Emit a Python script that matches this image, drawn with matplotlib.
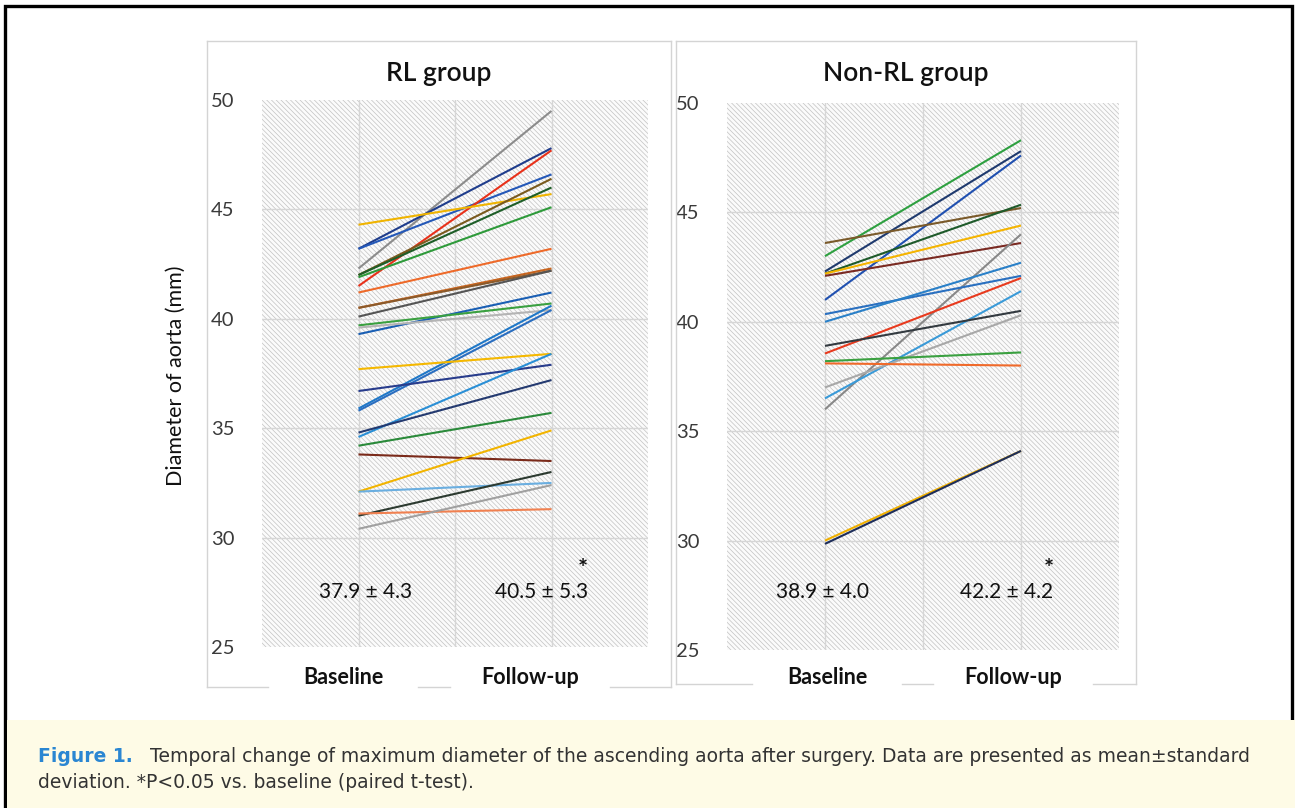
import matplotlib
matplotlib.use("Agg")
import matplotlib.pyplot as plt
from matplotlib.patches import Rectangle
from matplotlib.lines import Line2D

W, H = 1298, 808
plt.rcParams.update({"font.family": ["Lato", "DejaVu Sans"], "hatch.linewidth": 0.5})

# ---- data (mm) ----
timepoints = ["Baseline", "Follow-up"]
rl_baseline = [42.3, 43.2, 43.2, 41.5, 44.3, 42.0, 42.0, 41.9, 41.2, 40.5, 40.5, 40.1, 39.3, 39.7,
               39.6, 35.9, 35.8, 37.7, 36.7, 34.6, 34.8, 34.2, 33.8, 32.1, 32.1, 31.0, 31.1, 30.4]
rl_followup = [49.5, 47.8, 46.6, 47.7, 45.7, 46.4, 46.0, 45.1, 43.2, 42.3, 42.2, 42.2, 41.2, 40.7,
               40.4, 40.6, 40.4, 38.4, 37.9, 38.4, 37.2, 35.7, 33.5, 34.9, 32.5, 33.0, 31.3, 32.4]
nonrl_baseline = [43.0, 42.3, 41.0, 43.6, 42.2, 42.2, 42.1, 36.0, 40.35, 40.0, 38.55, 36.5, 38.9,
                  37.0, 38.2, 38.1, 30.0, 29.85]
nonrl_followup = [48.3, 47.8, 47.6, 45.2, 45.35, 44.4, 43.6, 44.0, 42.1, 42.7, 42.0, 41.4, 40.5,
                  40.3, 38.6, 38.0, 34.1, 34.1]
rl_stats = ["37.9 \u00b1 4.3", "40.5 \u00b1 5.3"]
nonrl_stats = ["38.9 \u00b1 4.0", "42.2 \u00b1 4.2"]
yticks = [25, 30, 35, 40, 45, 50]

rl_colors = ["#8c8c8c", "#1f3d8c", "#2458b8", "#e8311a", "#f0b400", "#7a5a1e", "#1e5e28", "#2e9a3a",
             "#ee6a2a", "#c8641e", "#8b5a2b", "#555555", "#1a5fb4", "#3aa040", "#b4b4b4", "#1f78c8",
             "#2a6ec0", "#f5b800", "#283c8c", "#2a8fd6", "#243a70", "#2a8a3a", "#7a2a1a", "#f2b400",
             "#6aaee0", "#2c3a30", "#f08050", "#a0a0a0"]
nonrl_colors = ["#2ea040", "#1f3a6e", "#2050b0", "#7a5a2a", "#1e5a2a", "#f5b400", "#7a2a22", "#888888",
                "#2a70c0", "#2a80c8", "#e83a1e", "#3a9ad8", "#333a40", "#a8a8a8", "#3aa040", "#f06a2a",
                "#f0b000", "#1e2e5a"]

fig = plt.figure(figsize=(W / 100, H / 100), dpi=100)
fx = lambda px: px / W
fy = lambda py: 1 - py / H

# page border + caption band
fig.patches.append(Rectangle((fx(5), 0), fx(1292) - fx(5), fy(6), transform=fig.transFigure,
                             fc="none", ec="black", lw=2.4))
fig.patches.append(Rectangle((fx(7), 0), fx(1295) - fx(7), fy(720), transform=fig.transFigure,
                             fc="#fefbe6", ec="none"))


def panel(frame, box, base, fol, colors, title, stats, lab_x, stat_x, star_x):
    x0, x1, y0, y1 = frame
    # light panel frame with gaps under the category labels
    segs = [(x0, x0, y0, y1), (x0, x1, y0, y0), (x1, x1, y0, y1)]
    for a, b, c, d in segs:
        fig.add_artist(Line2D([fx(a), fx(b)], [fy(c), fy(d)], transform=fig.transFigure,
                              color="#d4d4d4", lw=1.0))
    gaps = [x0, lab_x[0] - 75, lab_x[0] + 75, lab_x[1] - 80, lab_x[1] + 80, x1]
    for i in range(0, len(gaps), 2):
        fig.add_artist(Line2D([fx(gaps[i]), fx(gaps[i + 1])], [fy(y1), fy(y1)],
                              transform=fig.transFigure, color="#d4d4d4", lw=1.0))

    l, r, t, b = box
    ax = fig.add_axes([fx(l), fy(b), fx(r) - fx(l), fy(t) - fy(b)])
    ax.set_xlim(-0.5, 1.5)
    ax.set_ylim(25, 50)
    ax.add_patch(Rectangle((0, 0), 1, 1, transform=ax.transAxes, fc="#fbfbfb", ec="#c2c2c2",
                           lw=0, hatch="\\" * 7, zorder=0))
    for v in yticks[1:-1]:
        ax.axhline(v, color="#d6d6d6", lw=1.0, zorder=1)
    for v in [0, 0.5, 1]:
        ax.axvline(v, color="#d6d6d6", lw=1.0, zorder=1)
    for y0v, y1v, c in zip(base, fol, colors):
        ax.plot([0, 1], [y0v, y1v], color=c, lw=1.5, solid_capstyle="butt", zorder=3)
    for s in ax.spines.values():
        s.set_visible(False)
    ax.set_xticks([])
    ax.set_yticks(yticks)
    ax.tick_params(axis="y", length=0, pad=20, labelsize=14.5, labelcolor="#3a3a3a")

    fig.text(fx((x0 + x1) / 2), fy(73), title, ha="center", va="center", fontsize=19,
             fontweight="semibold", color="#111111")
    for xp, s in zip(lab_x, timepoints):
        fig.text(fx(xp), fy(677), s, ha="center", va="center", fontsize=15.5,
                 fontweight="bold", color="#111111")
    for xp, s in zip(stat_x, stats):
        fig.text(fx(xp), fy(592), s, ha="center", va="center", fontsize=15, color="#111111")
    fig.text(fx(star_x), fy(569), "*", ha="center", va="center", fontsize=17,
             fontweight="bold", color="#111111")
    return ax


panel((207, 671, 41, 687), (262, 648, 100, 647), rl_baseline, rl_followup, rl_colors,
      "RL group", rl_stats, (343, 530), (366, 542), 583)
panel((676, 1136, 41, 684), (727, 1119, 103, 650), nonrl_baseline, nonrl_followup, nonrl_colors,
      "Non-RL group", nonrl_stats, (827, 1013), (822, 1007), 1049)

fig.text(fx(176), fy(376), "Diameter of aorta (mm)", rotation=90, ha="center", va="center",
         fontsize=15.5, color="#111111")

cap = ["DejaVu Sans"]
fig.text(fx(38), fy(757), "Figure 1.", ha="left", va="center", fontsize=13.5,
         fontweight="bold", color="#2a86d2", family=cap)
fig.text(fx(150), fy(757), "Temporal change of maximum diameter of the ascending aorta after surgery. "
         "Data are presented as mean\u00b1standard", ha="left", va="center", fontsize=13.5,
         color="#333333", family=cap)
fig.text(fx(38), fy(783), "deviation. *P<0.05 vs. baseline (paired t-test).", ha="left",
         va="center", fontsize=13.5, color="#333333", family=cap)

fig.savefig("out.png", dpi=100, facecolor="white")
